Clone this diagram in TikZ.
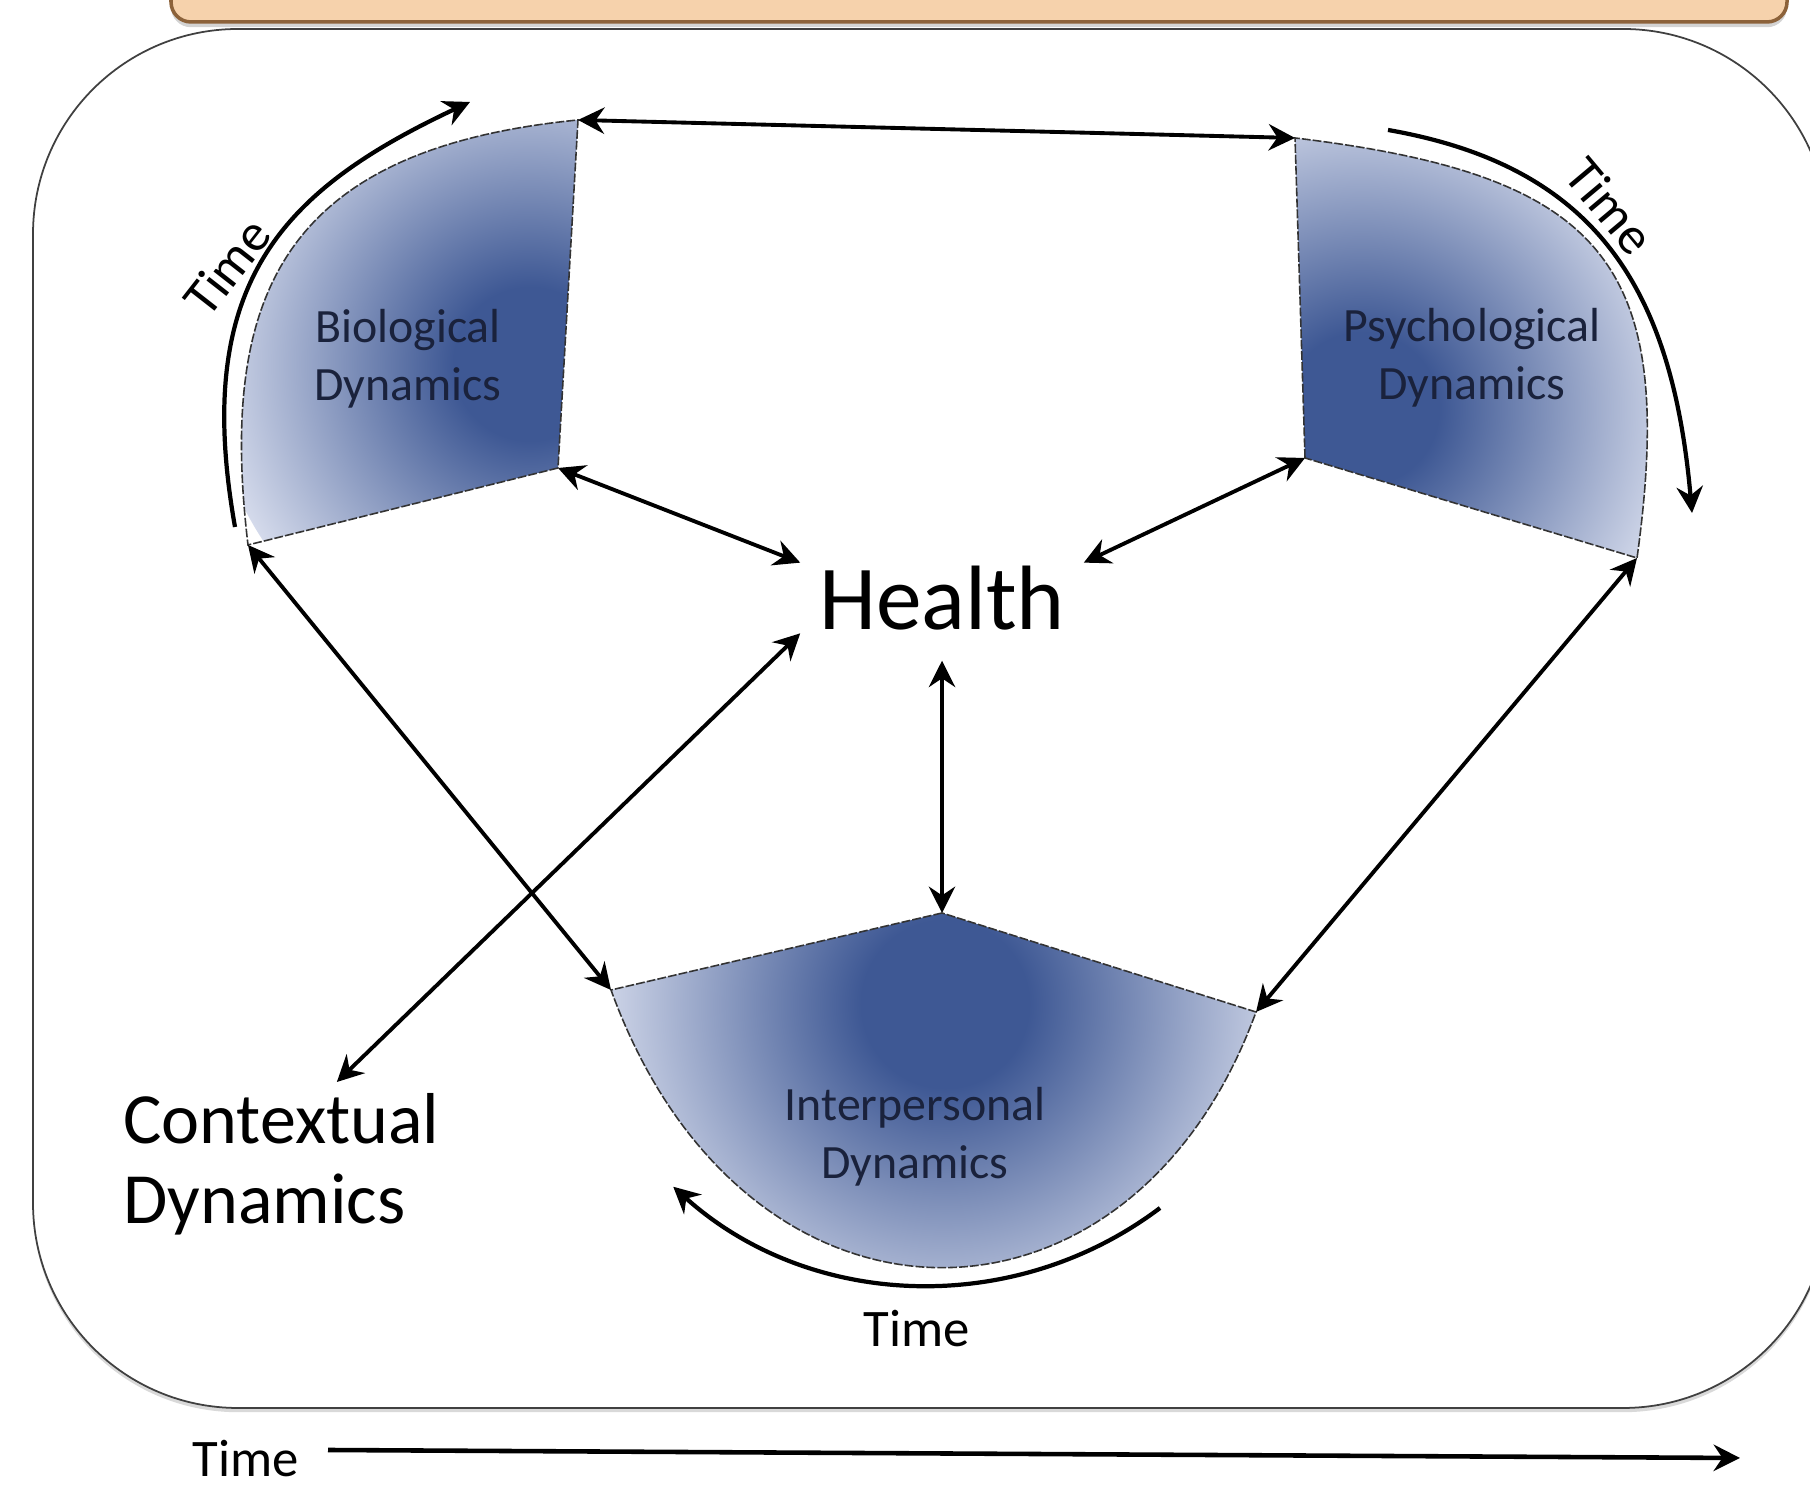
\documentclass[tikz,border=0pt]{standalone}
\usepackage{fontspec}
\setmainfont{Carlito}
\usepackage{xcolor}
\usetikzlibrary{arrows.meta, shadows}

\definecolor{dynDark}{RGB}{62,88,148}
\definecolor{dynLight}{RGB}{212,218,235}
\definecolor{dynText}{RGB}{26,34,60}
\definecolor{bannerFill}{RGB}{246,210,172}
\definecolor{bannerDraw}{RGB}{140,98,58}
\pgfdeclareradialshading{dynglow}{\pgfpointorigin}{color(0bp)=(dynDark); color(6bp)=(dynDark); color(25bp)=(dynLight); color(50bp)=(dynLight)}

\begin{document}
\begin{tikzpicture}[x=0.01cm, y=0.01cm,
        >={Stealth[length=7.5pt, width=7.5pt, inset=2.5pt]},
        link/.style={<->, line width=1.1pt},
        timearc/.style={->, line width=1.2pt},
        sector/.style={draw=black!80, line width=0.45pt, dash pattern=on 2.5pt off 0.6pt},
        dyn/.style={font=\fontsize{13.6}{16.5}\selectfont, text=dynText, align=center},
        timetext/.style={font=\fontsize{15}{18}\selectfont}]
            \useasboundingbox (0,0) rectangle (1810,1489);
            \clip (0,0) rectangle (1810,1489);

            \draw[fill=white, draw=black!75, line width=0.5pt, rounded corners=2.05cm,
                drop shadow={shadow xshift=0pt, shadow yshift=-1.2pt, opacity=0.3}] (33,81) rectangle (1828,1460);
            \draw[fill=bannerFill, draw=bannerDraw, line width=1pt, rounded corners=0.2cm,
                drop shadow={shadow xshift=0pt, shadow yshift=-1.5pt, opacity=0.35}] (171,1467) rectangle (1787,1560);

            \coordinate (bioTR) at (578,1369);
            \coordinate (bioApex) at (558,1021);
            \coordinate (bioBL) at (248,944);
            \coordinate (psyTL) at (1295,1351);
            \coordinate (psyApex) at (1305,1031);
            \coordinate (psyBR) at (1637,931);
            \coordinate (intApex) at (942,576);
            \coordinate (intL) at (611,499);
            \coordinate (intR) at (1256,477);

            \begin{scope}
                \clip (bioApex) -- (bioBL) .. controls +(-30,252) and +(-293,-29) .. (bioTR) -- cycle;
                \shade[shading=dynglow] (530,1125) circle (320);
            \end{scope}
            \begin{scope}
                \clip (psyApex) -- (psyTL) .. controls +(308,-37) and +(41,296) .. (psyBR) -- cycle;
                \shade[shading=dynglow] (1362,1080) circle (320);
            \end{scope}
            \begin{scope}
                \clip (intApex) -- (intL) .. controls +(134,-368) and +(-125,-343) .. (intR) -- cycle;
                \shade[shading=dynglow] (945,485) circle (350);
            \end{scope}
            \draw[sector] (bioApex) -- (bioBL) .. controls +(-30,252) and +(-293,-29) .. (bioTR) -- cycle;
            \draw[sector] (psyApex) -- (psyTL) .. controls +(308,-37) and +(41,296) .. (psyBR) -- cycle;
            \draw[sector] (intApex) -- (intL) .. controls +(134,-368) and +(-125,-343) .. (intR) -- cycle;

            \node[dyn] (bio) at (408,1130) {Biological\\Dynamics};
            \node[dyn] (psy) at (1472,1131) {Psychological\\Dynamics};
            \node[dyn] (inter) at (915,352) {Interpersonal\\Dynamics};
            \node[font=\fontsize{26}{30}\selectfont, minimum width=2.82cm, minimum height=1.24cm, inner sep=0pt] (health) at (942,891) {Health};
            \node[font=\fontsize{20.5}{22.8}\selectfont, align=left, inner sep=3pt, anchor=north west] (context) at (112,407) {Contextual\\Dynamics};

            \node[timetext, rotate=52] (bioTime) at (227,1222) {Time};
            \node[timetext, rotate=-50] (psyTime) at (1610,1283) {Time};
            \node[timetext] (intTime) at (917,160) {Time};
            \node[timetext] (axisTime) at (246,30) {Time};

            \draw[timearc] (235,962) .. controls +(-43,242) and +(-190,-89) .. (470,1387);
            \draw[timearc] (1388,1359) .. controls +(206,-36) and +(-20,227) .. (1692,976);
            \draw[timearc] (1160,281) arc[start angle=-53, end angle=-132, radius=383];

            \coordinate (axisStart) at (328,39);
            \coordinate (axisEnd) at (1740,31);
            \draw[->, line width=1.3pt] (axisStart) -- (axisEnd);

            \draw[link] (bioTR) -- (psyTL);
            \draw[link] (bioApex) -- (health.166);
            \draw[link] (psyApex) -- (health.14);
            \draw[link] (health.south) -- (intApex);
            \draw[link] (bioBL) -- (intL);
            \draw[link] (psyBR) -- (intR);
            \draw[link] (health.194) -- (context.56);
        \end{tikzpicture}
\end{document}
